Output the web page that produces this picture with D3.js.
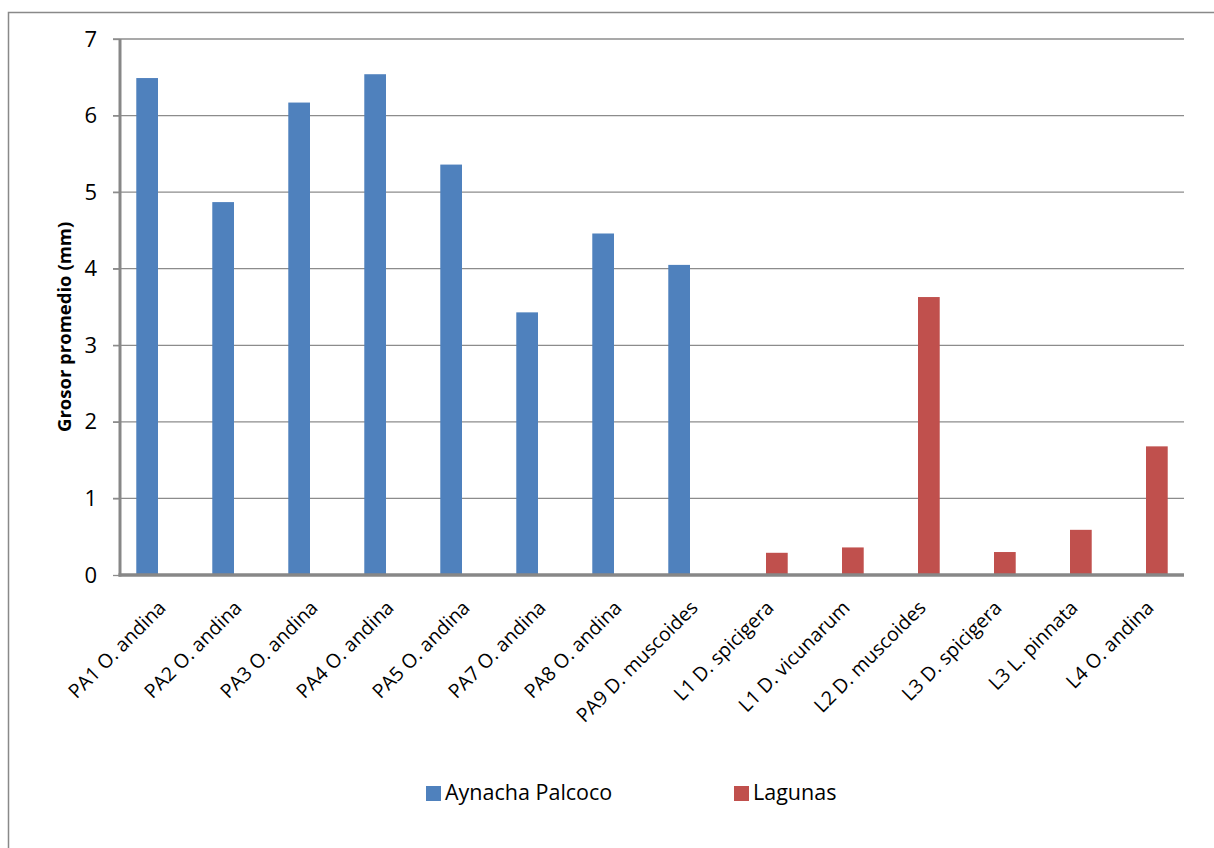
<!DOCTYPE html>
<html><head><meta charset="utf-8">
<script src="https://cdn.jsdelivr.net/npm/d3@7"></script>
<style>body{margin:0;background:#fff}svg{display:block}text{font-family:"Open Sans","Liberation Sans",sans-serif;fill:#000}</style>
</head><body>
<svg id="c" width="1214" height="848"></svg>
<script>
const categories = ["PA1 O. andina","PA2 O. andina","PA3 O. andina","PA4 O. andina","PA5 O. andina","PA7 O. andina","PA8 O. andina","PA9 D. muscoides","L1 D. spicigera","L1 D. vicunarum","L2 D. muscoides","L3 D. spicigera","L3 L. pinnata","L4 O. andina"];
const seriesNames = ["Aynacha Palcoco","Lagunas"];
const aynachaValues = [6.49,4.87,6.17,6.54,5.36,3.43,4.46,4.05,null,null,null,null,null,null];
const lagunasValues = [null,null,null,null,null,null,null,null,0.29,0.36,3.63,0.30,0.59,1.68];
const yTicks = [0,1,2,3,4,5,6,7];
const colors = ["#4F81BD","#C0504D"];

const svg = d3.select("#c");
const L = 120, R = 1184, T = 39, B = 575;

svg.append("rect").attr("x",8.5).attr("y",12.5).attr("width",1300).attr("height",1000)
  .attr("fill","none").attr("stroke","#898989").attr("stroke-width",1.5);

const x0 = d3.scaleBand().domain(categories).range([L,R]).padding(0);
const x1 = d3.scaleBand().domain(seriesNames).range([0,x0.bandwidth()]).paddingInner(0).paddingOuter(0.75);
const y = d3.scaleLinear().domain([0,7]).range([B,T]);

// gridlines
svg.append("g").selectAll("line").data(yTicks.filter(d=>d>0)).join("line")
  .attr("x1",L-7).attr("x2",R).attr("y1",d=>y(d)).attr("y2",d=>y(d))
  .attr("stroke","#8c8c8c").attr("stroke-width",1.3);

// bars
const rows = [aynachaValues, lagunasValues];
rows.forEach((vals,si)=>{
  svg.append("g").selectAll("rect").data(categories.map((c,i)=>({c,v:vals[i]})).filter(d=>d.v!=null)).join("rect")
    .attr("x",d=>x0(d.c)+x1(seriesNames[si]))
    .attr("width",x1.bandwidth())
    .attr("y",d=>y(d.v)).attr("height",d=>B-y(d.v))
    .attr("fill",colors[si]);
});

// y axis
const ya = svg.append("g").attr("transform",`translate(${L},0)`)
  .call(d3.axisLeft(y).tickValues(yTicks).tickSize(7).tickPadding(16).tickFormat(d3.format("d")));
ya.select(".domain").remove();
ya.selectAll(".tick line").attr("stroke","#8c8c8c").attr("stroke-width",1.3);
ya.selectAll(".tick text").attr("font-size",22).attr("font-family","Open Sans, sans-serif").attr("fill","#000");
svg.append("line").attr("x1",L).attr("x2",L).attr("y1",T).attr("y2",B+1.5).attr("stroke","#878787").attr("stroke-width",3);

// x axis
svg.append("line").attr("x1",L-1.5).attr("x2",R).attr("y1",B).attr("y2",B).attr("stroke","#878787").attr("stroke-width",3.5);
const xa = svg.append("g").attr("transform",`translate(0,${B})`)
  .call(d3.axisBottom(x0).tickSize(0).tickPadding(0));
xa.select(".domain").remove();
xa.selectAll(".tick text")
  .attr("font-size",19.5).attr("font-family","Open Sans, sans-serif").attr("fill","#000")
  .attr("text-anchor","end").attr("dy",0).attr("y",0)
  .attr("transform","translate(9,34) rotate(-45)");

// y label
svg.append("text").attr("transform",`translate(71,432) rotate(-90)`)
  .attr("text-anchor","start").attr("font-size",18.5).attr("font-weight","bold")
  .text("Grosor promedio (mm)");

// legend
const leg = [{x:426},{x:734}];
seriesNames.forEach((s,i)=>{
  svg.append("rect").attr("x",leg[i].x).attr("y",786).attr("width",15).attr("height",15).attr("fill",colors[i]);
  svg.append("text").attr("x",leg[i].x+19).attr("y",800).attr("font-size",21.5).text(s);
});
</script>
</body></html>
